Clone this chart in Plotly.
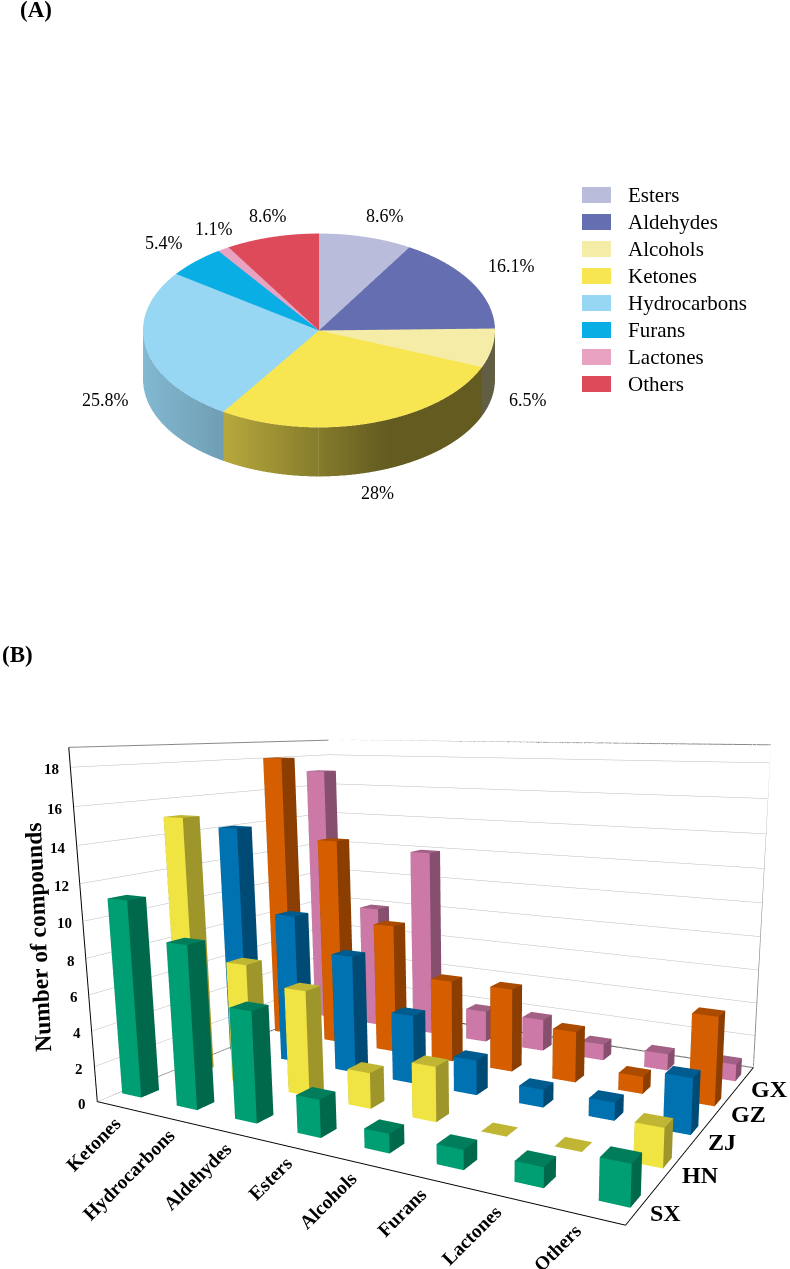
import numpy as np
import plotly.graph_objects as go

pie_labels = ['Esters', 'Aldehydes', 'Alcohols', 'Ketones', 'Hydrocarbons', 'Furans', 'Lactones', 'Others']
pie_values = [8.6, 16.1, 6.5, 28, 25.8, 5.4, 1.1, 8.6]
pie_text = ['8.6%', '16.1%', '6.5%', '28%', '25.8%', '5.4%', '1.1%', '8.6%']
pie_colors = ['#B9BCDB', '#646EB1', '#F5ECA8', '#F8E552', '#98D7F4', '#08AEE4', '#E8A3C3', '#DD4A5A']
pie_text_xy = [(385, 216), (511, 266), (528, 400), (377, 493), (105, 400), (164, 243), (214, 229), (268, 216)]

categories = ['Ketones', 'Hydrocarbons', 'Aldehydes', 'Esters', 'Alcohols', 'Furans', 'Lactones', 'Others']
regions = ['SX', 'HN', 'ZJ', 'GZ', 'GX']
sx = [11, 9, 6, 2, 1, 1, 1, 2]
hn = [15, 7, 6, 2, 3, 0, 0, 2]
zj = [14, 9, 7, 4, 2, 1, 1, 3]
gz = [18, 13, 8, 5, 5, 3, 1, 5]
gx = [17, 8, 12, 2, 2, 1, 1, 1]
region_colors = ['#009E73', '#F0E442', '#0072B2', '#D55E00', '#CC79A7']

# the 3d view needs its optical centre right of the window middle, so the page is
# larger than the window and the rest is cut off
W, H = 984, 1354
bar_top = 503.27


def px(x):
    return x / W


def py(y):
    return 1 - y / H


def shaded(col, s):
    rgb = [int(col[i:i + 2], 16) for i in (1, 3, 5)]
    return 'rgb(%d,%d,%d)' % tuple(int(c * s) for c in rgb)


fig = go.Figure()
flat = dict(ambient=1, diffuse=0, specular=0, roughness=0.5, fresnel=0.2, facenormalsepsilon=0)

# pie
pie_h = 0.334
total = sum(pie_values)
cum = 0.0
for value, col in zip(pie_values, pie_colors):
    th0 = cum / total * 2 * np.pi
    cum += value
    th1 = cum / total * 2 * np.pi
    th = np.linspace(th0, th1, max(int((th1 - th0) / 0.02), 2))
    n = th.size
    xs, ys, zs = np.sin(th), np.cos(th), np.full(n, pie_h)
    X = np.r_[0, xs, xs, xs]
    Y = np.r_[0, ys, ys, ys]
    Z = np.r_[pie_h, zs, zs, np.zeros(n)]
    shade = np.interp(xs, [-1, -0.545, 0.386, 1], [0.86, 0.74, 0.40, 0.40])
    vc = [shaded(col, 1)] * (n + 1) + [shaded(col, s) for s in shade] * 2
    I, J, K = [], [], []
    for a in range(n - 1):
        I.append(0), J.append(a + 1), K.append(a + 2)
        b = n + 1 + a
        I += [b, b + 1]
        J += [b + n, b + n]
        K += [b + 1, b + n + 1]
    fig.add_trace(go.Mesh3d(x=X, y=Y, z=Z, i=I, j=J, k=K, vertexcolor=vc, flatshading=False,
                            lighting=flat, hoverinfo='skip', scene='scene'))

# bars
half_w, half_d = 0.19, 0.15
faces = [((0, 1, 5), 1), ((0, 5, 4), 1), ((1, 2, 6), 0.66), ((1, 6, 5), 0.66),
         ((4, 5, 6), 0.8), ((4, 6, 7), 0.8), ((3, 0, 4), 0.66), ((3, 4, 7), 0.66),
         ((2, 3, 7), 0.66), ((2, 7, 6), 0.66)]
for row, (vals, col) in enumerate(zip([sx, hn, zj, gz, gx], region_colors)):
    X, Y, Z, I, J, K, FC = [], [], [], [], [], [], []
    for c, v in enumerate(vals):
        o = len(X)
        xc = 0.75 + 1.067 * c
        x0, x1, y0, y1 = xc - half_w, xc + half_w, row + 1 - half_d, row + 1 + half_d
        X += [x0, x1, x1, x0, x0, x1, x1, x0]
        Y += [y0, y0, y1, y1, y0, y0, y1, y1]
        Z += [0, 0, 0, 0, v, v, v, v]
        for (a, b, d), s in faces:
            I.append(o + a), J.append(o + b), K.append(o + d), FC.append(shaded(col, s))
    fig.add_trace(go.Mesh3d(x=X, y=Y, z=Z, i=I, j=J, k=K, facecolor=FC, flatshading=True,
                            lighting=flat, hoverinfo='skip', scene='scene2'))

# back frame of the box
frame = [([0.5, 8.5, 8.5], [5.5, 5.5, 0.5], [0, 0, 0], '#333333'),
         ([0.5, 0.5], [0.5, 5.5], [0, 0], '#333333'),
         ([0.5, 0.5, 8.5, 8.5], [0.5, 5.5, 5.5, 5.5], [19, 19, 19, 0], '#888888'),
         ([0.5, 0.5], [5.5, 5.5], [0, 19], '#666666')]
for fx, fy, fz, fc in frame:
    fig.add_trace(go.Scatter3d(x=fx, y=fy, z=fz, mode='lines', line=dict(color=fc, width=2),
                               hoverinfo='skip', showlegend=False, scene='scene2'))

# tick marks, z has minor ones so the axis' own ticks are not enough
tx, ty, tz = [], [], []
for v in range(0, 19):
    tx += [0.5, 0.38 if v % 2 == 0 else 0.44, None]
    ty += [0.5, 0.5, None]
    tz += [v, v, None]
for c in range(1, 9):
    tx += [c, c, None]
    ty += [0.5, 0.42, None]
    tz += [0, 0, None]
for r in range(1, 6):
    tx += [8.5, 8.6, None]
    ty += [r, r, None]
    tz += [0, 0, None]
fig.add_trace(go.Scatter3d(x=tx, y=ty, z=tz, mode='lines', line=dict(color='black', width=2),
                           hoverinfo='skip', showlegend=False, scene='scene2'))

ann3d = []
for c, name in enumerate(categories):
    ann3d.append(dict(x=c + 1, y=0.5, z=0, text='<b>%s</b>' % name, showarrow=False, textangle=-45,
                      xanchor='right', yanchor='top', xshift=6, yshift=-2,
                      font=dict(family='Liberation Serif', size=19.5, color='black')))
for r, name in enumerate(regions):
    ann3d.append(dict(x=8.5, y=r + 1, z=0, text='<b>%s</b>' % name, showarrow=False,
                      xanchor='left', yanchor='middle', xshift=5, yshift=-10,
                      font=dict(family='Liberation Serif', size=24, color='black')))
for v in range(0, 19, 2):
    ann3d.append(dict(x=0.5, y=0.5, z=v, text='<b>%d</b>' % v, showarrow=False,
                      xanchor='right', yanchor='middle', xshift=-9, yshift=-2,
                      font=dict(family='Liberation Serif', size=15, color='black')))

hidden = dict(visible=False, showgrid=False, zeroline=False, showline=False, showspikes=False,
              showbackground=False, showticklabels=False, ticks='')
bar_axis = dict(showbackground=False, showgrid=False, zeroline=False, showline=True, linecolor='black',
                linewidth=2, ticks='', showticklabels=False, title=dict(text=''), showspikes=False)
pie_s = 1.76
fig.update_layout(
    width=W, height=H, margin=dict(l=0, r=0, t=0, b=0), showlegend=False,
    paper_bgcolor='white', font=dict(family='Liberation Serif', color='black'),
    scene=dict(domain=dict(x=[0, px(638)], y=[py(554.5), py(154.5)]),
               xaxis=dict(hidden, range=[-1, 1]), yaxis=dict(hidden, range=[-1, 1]),
               zaxis=dict(hidden, range=[0, pie_h]),
               aspectmode='manual', aspectratio=dict(x=pie_s, y=pie_s, z=pie_s * pie_h / 2),
               camera=dict(eye=dict(x=0, y=-0.835 * 3, z=0.551 * 3), up=dict(x=0, y=0, z=1),
                           center=dict(x=0, y=0, z=0), projection=dict(type='orthographic'))),
    scene2=dict(domain=dict(x=[0, 1], y=[0, py(bar_top)]),
                xaxis=dict(bar_axis, range=[0.5, 8.5]),
                yaxis=dict(bar_axis, range=[0.5, 5.5]),
                zaxis=dict(bar_axis, range=[0, 19], tickvals=list(range(0, 19, 2)),
                           showgrid=True, gridcolor='#BBBBBB', gridwidth=1),
                aspectmode='manual', aspectratio=dict(x=1, y=0.7250, z=0.6253),
                camera=dict(eye=dict(x=0.9293, y=-1.5846, z=0.3565),
                            center=dict(x=0.0871, y=0.0418, z=-0.0142),
                            up=dict(x=0.0052, y=0.0027, z=1),
                            projection=dict(type='perspective')),
                annotations=ann3d),
)

shapes, annos = [], []
base = dict(xref='paper', yref='paper', showarrow=False, xanchor='center', yanchor='middle')
for i, (name, col) in enumerate(zip(pie_labels, pie_colors)):
    yc = 195 + i * 27
    shapes.append(dict(type='rect', xref='paper', yref='paper', x0=px(582), x1=px(611), y0=py(yc - 8), y1=py(yc + 8),
                       fillcolor=col, line=dict(width=0)))
    annos.append(dict(base, x=px(626), y=py(yc), text=name, xanchor='left', font=dict(size=21)))
for txt, (lx, ly) in zip(pie_text, pie_text_xy):
    annos.append(dict(base, x=px(lx), y=py(ly), text=txt, font=dict(size=18)))
annos.append(dict(base, x=px(36), y=py(10), text='<b>(A)</b>', font=dict(size=23)))
annos.append(dict(base, x=px(17), y=py(654), text='<b>(B)</b>', font=dict(size=23)))
annos.append(dict(base, x=px(38), y=py(938), text='<b>Number of compounds</b>', textangle=-92.6, font=dict(size=23.5)))
fig.update_layout(shapes=shapes, annotations=annos)
fig.write_html("out.html", config=dict(displayModeBar=False),
               post_script="document.body.style.margin='0';document.documentElement.style.overflow='hidden'")
